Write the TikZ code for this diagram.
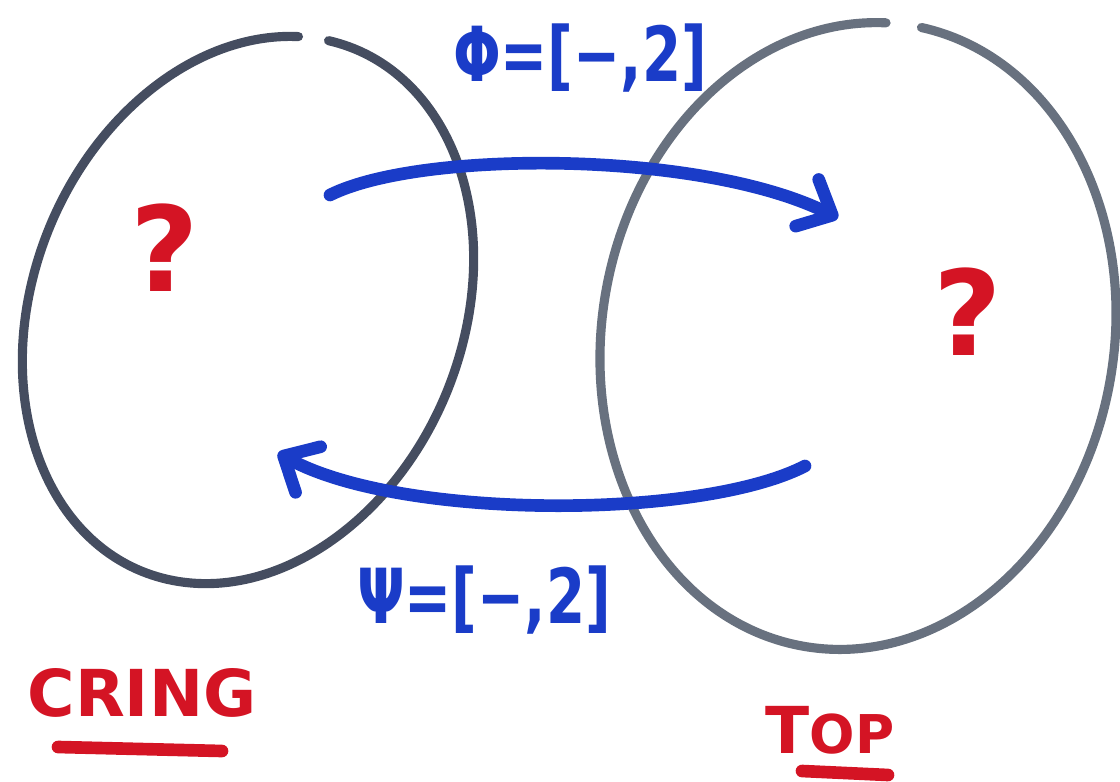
\documentclass[tikz,border=0pt]{standalone}
\usepackage{graphicx}
\usepackage{fontspec}
\setmainfont{DejaVu Sans}
\usetikzlibrary{arrows.meta,positioning}
\definecolor{pen}{HTML}{454D60}
\definecolor{penlight}{HTML}{68717F}
\definecolor{ink}{HTML}{1A3CC8}
\definecolor{marker}{HTML}{D41424}

\begin{document}
\begin{tikzpicture}[x=0.025cm,y=-0.025cm,
                    category/.style={draw=pen,line width=6.5pt,line cap=round},
                    functor/.style={draw=ink,line width=9pt,line cap=round,
                                    -{Straight Barb[length=7mm,width=13mm,round]}},
                    fname/.style={text=ink,font=\bfseries\fontsize{40}{40}\selectfont},
                    unknown/.style={text=marker,font=\bfseries\fontsize{84}{84}\selectfont},
                    cname/.style={text=marker,font=\bfseries\fontsize{46}{46}\selectfont},
                    underline/.style={draw=marker,line width=9pt,line cap=round}]
  \useasboundingbox (0,0) rectangle (1120,782);
  % the two categories, each left open at the top
  \draw[category,shift={(248,310)},rotate=-22]
    (-97:215 and 282) arc[start angle=-97,end angle=255,x radius=215,y radius=282];
  \draw[category,draw=penlight,shift={(858,336)},rotate=-10]
    (-88:256 and 315) arc[start angle=-88,end angle=264,x radius=256,y radius=315];
  % objects nobody knows yet
  \node[unknown] (ringobj) at (165,248) {?};
  \node[unknown] (spaceobj) at (968,312) {?};
  % the two functors
  \coordinate (phiS) at (330,195);
  \coordinate (phiT) at (838,218);
  \coordinate (psiS) at (805,466);
  \coordinate (psiT) at (278,453);
  \draw[functor] (phiS) .. controls (420,150) and (700,150) .. (phiT);
  \draw[functor] (psiS) .. controls (700,520) and (400,520) .. (psiT);
  \node[fname] (phi) at (580,58) {\scalebox{1}[1.35]{Φ=[−,2]}};
  \node[fname] (psi) at (484,600) {\scalebox{1}[1.35]{Ψ=[−,2]}};
  % category names
  \node[cname] (cring) at (142,693) {CRING};
  \node[cname] (top) at (830,730) {T{\fontsize{38}{38}\selectfont OP}};
  \coordinate (cringL) at (58,747);
  \coordinate (cringR) at (222,751);
  \coordinate (topL) at (802,771);
  \coordinate (topR) at (888,775);
  \draw[underline] (cringL) -- (cringR);
  \draw[underline] (topL) -- (topR);
\end{tikzpicture}
\end{document}
